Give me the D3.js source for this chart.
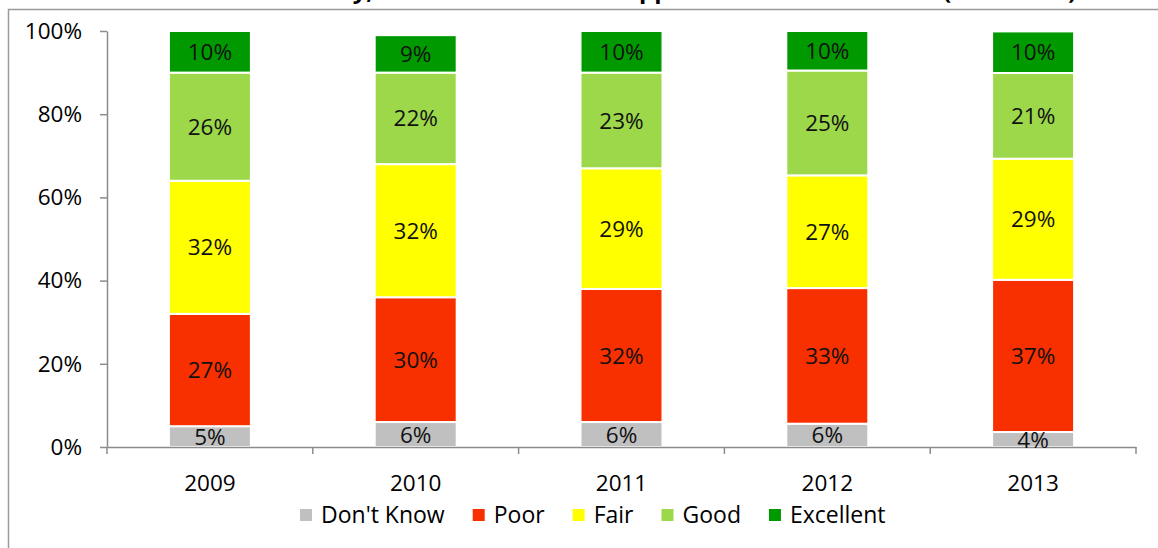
<!DOCTYPE html>
<html>
<head>
<meta charset="utf-8">
<script src="https://cdn.jsdelivr.net/npm/d3@7/dist/d3.min.js"></script>
<style>
  html, body { margin: 0; padding: 0; background: #fff; }
  svg { display: block; font-family: "Open Sans", "DejaVu Sans", sans-serif; }
</style>
</head>
<body>
<svg id="chart" width="1158" height="548"></svg>
<script>
// Survey years and response categories (bottom to top of each stack)
const years = ["2009", "2010", "2011", "2012", "2013"];
const categories = ["Don't Know", "Poor", "Fair", "Good", "Excellent"];
const colors = ["#c0c0c0", "#f83000", "#ffff00", "#9cd84a", "#009a00"];

// Share of respondents (%) per category, one array per category
const dontKnow  = [5, 6, 6, 5.6, 3.6];
const poor      = [27, 30, 32, 32.6, 36.6];
const fair      = [32, 32, 29, 27.1, 29.1];
const good      = [26, 22, 23, 25.2, 20.6];
const excellent = [10, 9, 10, 9.5, 10];

const yTicks = [0, 0.2, 0.4, 0.6, 0.8, 1.0];
const title = "Perceived Availability, Access to Education Opportunities in Nebraska (2009-2013)";

const seriesValues = [dontKnow, poor, fair, good, excellent];
const rows = years.map((yr, i) => {
  const r = { year: yr, index: i };
  categories.forEach((c, k) => { r[c] = seriesValues[k][i] / 100; });
  return r;
});

const svg = d3.select("#chart");
const W = 1158, H = 548;
const plot = { left: 107, right: 1136, top: 31, bottom: 447 };
const FS = 22.5;

// Outer chart border (top and left edges show within the frame)
svg.append("rect")
  .attr("x", 8.5).attr("y", 9.5)
  .attr("width", W + 20).attr("height", H + 20)
  .attr("fill", "none").attr("stroke", "#9a9a9a").attr("stroke-width", 1.5);

// Title, sitting mostly above the frame
svg.append("text")
  .attr("x", 110).attr("y", -1)
  .attr("textLength", 966).attr("lengthAdjust", "spacingAndGlyphs")
  .attr("font-weight", "bold").attr("font-size", 22).attr("fill", "#000")
  .text(title);

const pad = 0.6016;
const x = d3.scaleBand().domain(years)
  .range([plot.left, plot.right])
  .paddingInner(pad).paddingOuter(pad / 2);
const y = d3.scaleLinear().domain([0, 1]).range([plot.bottom, plot.top]);
const color = d3.scaleOrdinal().domain(categories).range(colors);

const stacked = d3.stack().keys(categories)(rows);

// Stacked bars
const layers = svg.append("g").selectAll("g")
  .data(stacked).join("g")
  .attr("fill", d => color(d.key));

layers.selectAll("rect")
  .data(d => d)
  .join("rect")
  .attr("x", d => x(d.data.year))
  .attr("width", x.bandwidth())
  .attr("y", d => y(d[1]))
  .attr("height", d => y(d[0]) - y(d[1]))
  .attr("stroke", "#fff").attr("stroke-width", 2);

// Axes
const yAxis = d3.axisLeft(y).tickValues(yTicks)
  .tickFormat(d3.format(".0%"))
  .tickSizeInner(7).tickSizeOuter(0).tickPadding(18);
const gy = svg.append("g").attr("transform", `translate(${plot.left},0)`).call(yAxis);

const xAxis = d3.axisBottom(x).tickSize(0);
const gx = svg.append("g").attr("transform", `translate(0,${plot.bottom})`).call(xAxis);
gx.selectAll(".tick text").attr("y", 44).attr("dy", 0);

// Category boundary tick marks on the x axis
const half = (x.step() - x.bandwidth()) / 2;
const bounds = years.map(yr => x(yr) - half).concat([x(years[years.length - 1]) + x.bandwidth() + half]);
gx.selectAll("line.bound").data(bounds).join("line")
  .attr("class", "bound")
  .attr("x1", d => d).attr("x2", d => d)
  .attr("y1", 0).attr("y2", 7);

[gx, gy].forEach(g => {
  g.select(".domain").attr("stroke", "#8c8c8c").attr("stroke-width", 1.5);
  g.selectAll("line").attr("stroke", "#8c8c8c").attr("stroke-width", 1.5);
  g.selectAll("text").attr("font-size", FS).attr("fill", "#000")
    .attr("font-family", "'Open Sans', sans-serif");
});

// Value labels centered in each segment
svg.append("g").selectAll("g")
  .data(stacked.map((s, k) => s.map(d => ({ d, v: seriesValues[k][d.data.index] }))))
  .join("g")
  .selectAll("text")
  .data(s => s)
  .join("text")
  .attr("x", e => x(e.d.data.year) + x.bandwidth() / 2)
  .attr("y", e => (y(e.d[0]) + y(e.d[1])) / 2)
  .attr("dy", "0.36em")
  .attr("text-anchor", "middle")
  .attr("font-size", FS).attr("fill", "#111")
  .text(e => Math.round(e.v) + "%");

// Legend
const legend = svg.append("g").attr("transform", "translate(300,515)");
let lx = 0;
categories.forEach(c => {
  const item = legend.append("g").attr("transform", `translate(${lx},0)`);
  item.append("rect").attr("x", 0).attr("y", -6).attr("width", 12).attr("height", 12)
    .attr("fill", color(c));
  const t = item.append("text").attr("x", 21).attr("dy", "0.36em")
    .attr("font-size", 23).attr("fill", "#000").text(c);
  lx += 21 + t.node().getComputedTextLength() + 28;
});
</script>
</body>
</html>
